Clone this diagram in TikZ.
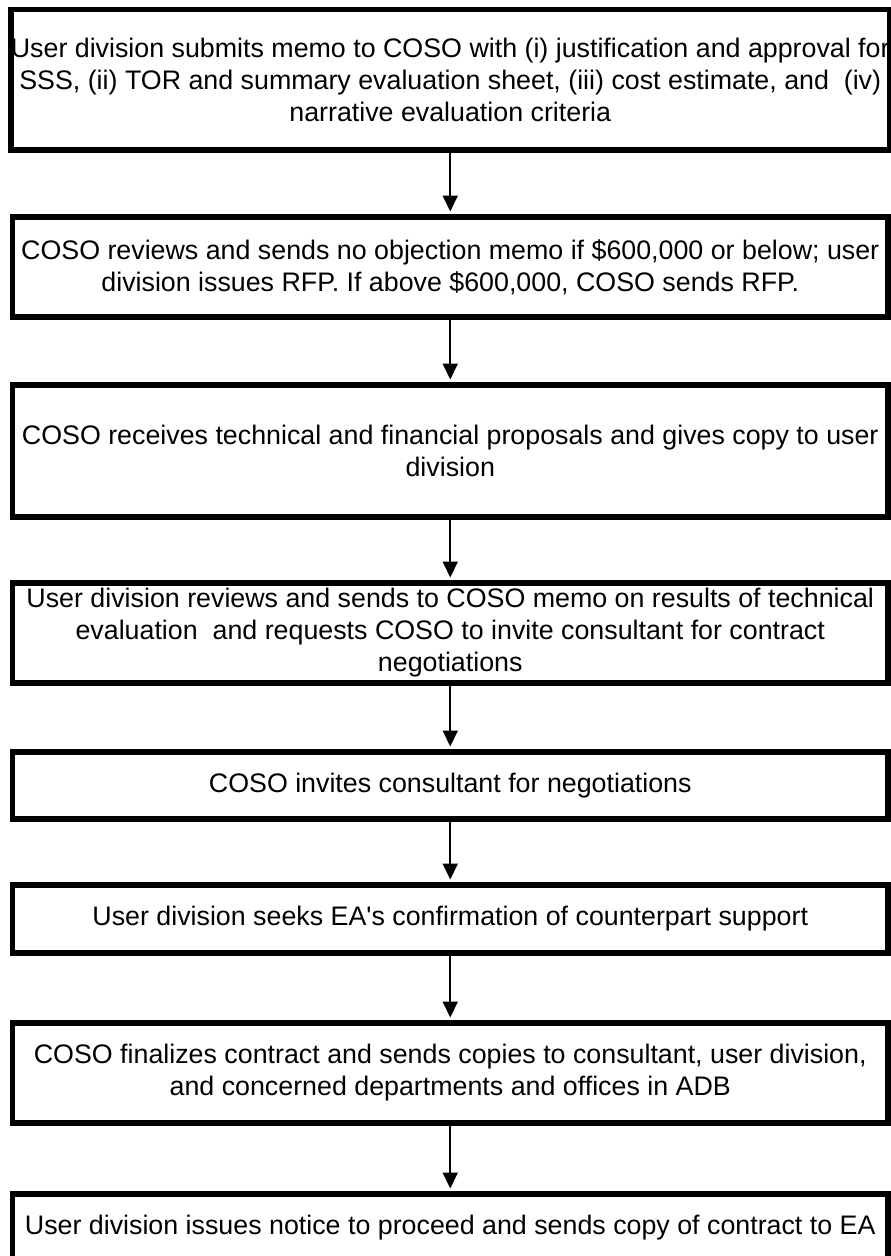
\documentclass[tikz,border=0pt]{standalone}
\usepackage{fontspec}
\setmainfont{Liberation Sans}
\usetikzlibrary{arrows.meta}
\begin{document}
\begin{tikzpicture}[x=1pt,y=-1pt,
  box/.style={draw=black, line width=5.5pt, minimum width=875.5pt, inner sep=0pt,
    align=center, font=\fontsize{26.8}{32}\selectfont},
  arr/.style={line width=1.8pt, -{Triangle[width=15pt,length=16pt]}, shorten >=2.75pt}]
\useasboundingbox (0,0) rectangle (891,1256);
\clip (0,0) rectangle (891,1256);
\node[box, minimum height=140.5pt] (b1) at (450.25,79.75)
  {User division submits memo to COSO with (i) justification and approval for\\
   SSS, (ii) TOR and summary evaluation sheet, (iii) cost estimate, and\ \ (iv)\\
   narrative evaluation criteria};
\node[box, minimum height=100pt] (b2) at (450.25,267)
  {COSO reviews and sends no objection memo if \$600,000 or below; user\\
   division issues RFP. If above \$600,000, COSO sends RFP.};
\node[box, minimum height=132pt] (b3) at (450.25,451)
  {COSO receives technical and financial proposals and gives copy to user\\
   division};
\node[box, minimum height=100pt] (b4) at (450.25,633)
  {User division reviews and sends to COSO memo on results of technical\\
   evaluation\ \ and requests COSO to invite consultant for contract\\
   negotiations};
\node[box, minimum height=67pt] (b5) at (450.25,785.5)
  {COSO invites consultant for negotiations};
\node[box, minimum height=68pt] (b6) at (450.25,919)
  {User division seeks EA\textquotesingle s confirmation of counterpart support};
\node[box, minimum height=100pt] (b7) at (450.25,1073)
  {COSO finalizes contract and sends copies to consultant, user division,\\
   and concerned departments and offices in ADB};
\node[box, minimum height=68pt] (b8) at (450.25,1228)
  {User division issues notice to proceed and sends copy of contract to EA};
\draw[arr] (b1.south) -- (b2.north);
\draw[arr] (b2.south) -- (b3.north);
\draw[arr] (b3.south) -- (b4.north);
\draw[arr] (b4.south) -- (b5.north);
\draw[arr] (b5.south) -- (b6.north);
\draw[arr] (b6.south) -- (b7.north);
\draw[arr] (b7.south) -- (b8.north);
\end{tikzpicture}
\end{document}
